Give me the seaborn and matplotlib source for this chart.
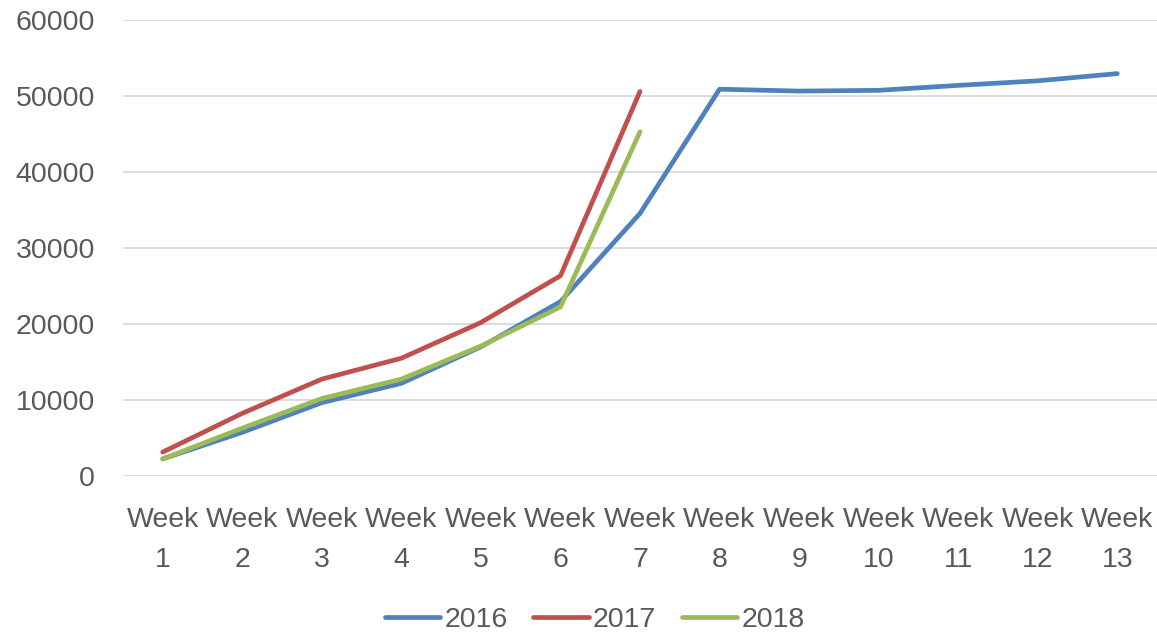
import pandas as pd
import matplotlib
matplotlib.use('Agg')
import matplotlib.pyplot as plt
import seaborn as sns

# dados
semanas = list(range(1, 14))
rotulos = ['Week\n%d' % s for s in semanas]
vendas_2016 = [2250, 5750, 9650, 12200, 17000, 22950, 34550, 50900, 50650, 50750, 51400, 52000, 52950]
vendas_2017 = [3150, 8250, 12750, 15500, 20200, 26350, 50600]
vendas_2018 = [2250, 6300, 10200, 12750, 17100, 22250, 45300]
anos = ['2016', '2017', '2018']
cores = ['#4F81BD', '#C0504D', '#9BBB59']

linhas = []
for ano, valores in zip(anos, [vendas_2016, vendas_2017, vendas_2018]):
    for s, v in zip(semanas, valores):
        linhas.append({'semana': s, 'valor': v, 'ano': ano})
df = pd.DataFrame(linhas)

sns.set_style('white')
plt.rcParams['font.family'] = ['Liberation Sans', 'DejaVu Sans']

fig = plt.figure(figsize=(11.57, 6.32), dpi=100)
ax = fig.add_axes([0.1063, 0.2468, 0.8937, 0.7215])

sns.lineplot(data=df, x='semana', y='valor', hue='ano', palette=cores,
             linewidth=3.4, ax=ax, legend=False, solid_capstyle='round')

ax.set_xlim(0.5, 13.5)
ax.set_ylim(0, 60000)
ax.set_yticks(range(0, 60001, 10000))
ax.set_xticks(semanas)
ax.set_xticklabels(rotulos, linespacing=1.7)
ax.yaxis.grid(True, color='#D9D9D9', linewidth=1.3)
ax.set_axisbelow(True)
for sp in ax.spines.values():
    sp.set_visible(False)
ax.tick_params(axis='both', length=0, labelsize=20.5, labelcolor='#595959')
ax.tick_params(axis='x', pad=22)
ax.tick_params(axis='y', pad=20)
ax.set_xlabel('')
ax.set_ylabel('')

handles = [plt.Line2D([], [], color=c, linewidth=3.4, solid_capstyle='round') for c in cores]
fig.legend(handles, anos, loc='center', bbox_to_anchor=(0.514, 0.019), ncol=3,
           frameon=False, fontsize=20.5, labelcolor='#595959', handlelength=1.95,
           handletextpad=0.15, columnspacing=0.9)

plt.savefig('out.png', dpi=100)
